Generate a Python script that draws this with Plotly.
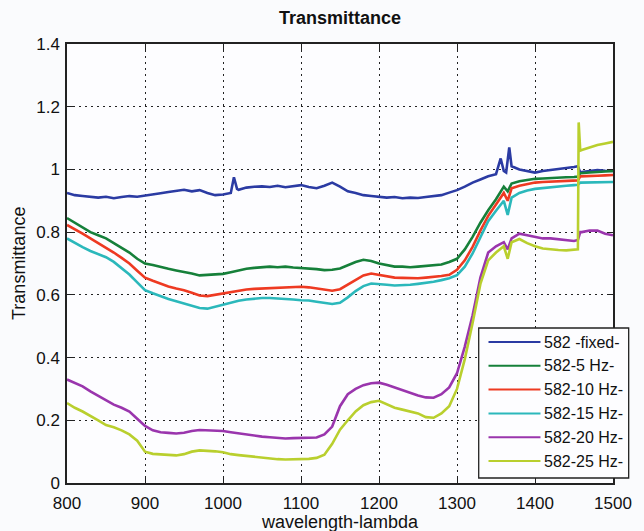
import plotly.graph_objects as go

# Sampling grid of the spectra (nm)
wavelength = list(range(800, 1501, 10))

t_fixed = [
    .925, .918, .915, .912, .910, .913, .908, .912, .915, .913,
    .916, .920, .924, .928, .932, .935, .930, .934, .925, .918,
    .920, .925, .935, .942, .945, .946, .944, .948, .943, .946,
    .950, .944, .940, .948, .958, .945, .930, .925, .918, .915,
    .913, .910, .912, .908, .910, .909, .912, .914, .918, .926,
    .934, .945, .958, .968, .978, .985, .995, 1.010, 1.000, .995,
    .990, .995, .998, 1.000, 1.005, 1.008, .992, .995, .998, .996,
    .995,
]
t_5hz = [
    .845, .830, .815, .800, .790, .780, .765, .750, .735, .715,
    .700, .695, .688, .683, .678, .674, .668, .662, .664, .665,
    .667, .672, .678, .683, .686, .689, .690, .688, .690, .687,
    .686, .684, .682, .679, .680, .684, .695, .705, .712, .708,
    .700, .694, .690, .690, .688, .690, .692, .694, .697, .705,
    .715, .745, .785, .830, .870, .905, .945, .955, .962, .966,
    .970, .971, .973, .974, .975, .976, .988, .990, .992, .993,
    .995,
]
t_10hz = [
    .823, .810, .795, .780, .765, .752, .735, .718, .700, .677,
    .655, .645, .635, .627, .620, .615, .607, .598, .596, .600,
    .605, .610, .614, .617, .619, .620, .622, .623, .625, .626,
    .626, .624, .620, .617, .613, .618, .632, .648, .662, .668,
    .664, .658, .655, .654, .653, .653, .655, .657, .660, .664,
    .680, .710, .753, .805, .852, .888, .925, .940, .948, .954,
    .958, .960, .961, .962, .963, .964, .978, .979, .980, .981,
    .982,
]
t_15hz = [
    .780, .765, .752, .740, .730, .720, .705, .685, .665, .640,
    .615, .605, .595, .587, .580, .573, .566, .558, .556, .562,
    .570, .576, .581, .585, .588, .590, .590, .589, .587, .585,
    .583, .582, .578, .574, .571, .575, .592, .612, .628, .636,
    .635, .632, .630, .630, .632, .635, .638, .642, .647, .653,
    .663, .690, .732, .785, .835, .868, .900, .910, .925, .933,
    .938, .941, .944, .946, .948, .950, .958, .958, .959, .960,
    .960,
]
t_20hz = [
    .330, .318, .308, .292, .278, .262, .250, .240, .228, .205,
    .182, .168, .162, .160, .158, .160, .166, .169, .168, .167,
    .166, .162, .158, .154, .150, .148, .146, .144, .142, .143,
    .143, .144, .145, .155, .180, .245, .283, .300, .312, .318,
    .320, .313, .304, .295, .286, .279, .273, .272, .283, .305,
    .350, .435, .535, .655, .735, .755, .768, .780, .795, .790,
    .785, .780, .780, .777, .775, .772, .800, .805, .805, .795,
    .790,
]
t_25hz = [
    .255, .240, .228, .215, .200, .185, .178, .168, .155, .135,
    .100, .093, .091, .089, .088, .092, .100, .104, .103, .101,
    .098, .092, .089, .086, .083, .080, .078, .076, .075, .075,
    .076, .077, .080, .090, .125, .170, .200, .228, .248, .258,
    .262, .250, .240, .234, .228, .222, .210, .208, .222, .245,
    .300, .395, .510, .635, .710, .735, .755, .768, .778, .765,
    .755, .748, .745, .743, .742, .743, 1.062, 1.070, 1.078, 1.083,
    1.088,
]

# Narrow features between grid points: spikes, dips and the step near 1457 nm
extra_fixed = {1014: .975, 1018: .938, 1356: 1.035, 1363: .990, 1367: 1.070, 1455: 1.010, 1458: .990}
extra_5hz = {1365: .930, 1455: .977, 1458: .988}
extra_10hz = {1365: .900, 1455: .965, 1458: .978}
extra_15hz = {1365: .855, 1368: .890, 1455: .951, 1458: .958}
extra_20hz = {1365: .745, 1455: .775, 1458: .800}
extra_25hz = {1365: .715, 1455: .745, 1456: 1.150, 1458: 1.060}

names = ["582 -fixed-", "582-5 Hz-", "582-10 Hz-", "582-15 Hz-", "582-20 Hz-", "582-25 Hz-"]
colors = ["#2b3ba3", "#16803a", "#ee3a22", "#2bb8bb", "#9a35ad", "#b9cf2e"]
series = [t_fixed, t_5hz, t_10hz, t_15hz, t_20hz, t_25hz]
extras = [extra_fixed, extra_5hz, extra_10hz, extra_15hz, extra_20hz, extra_25hz]

x_ticks = [800, 900, 1000, 1100, 1200, 1300, 1400, 1500]
y_ticks = [0, 0.2, 0.4, 0.6, 0.8, 1.0, 1.2, 1.4]
y_labels = ["0", "0.2", "0.4", "0.6", "0.8", "1", "1.2", "1.4"]

FONT = "Liberation Sans, Arial, sans-serif"

fig = go.Figure()
for name, color, vals, extra in zip(names, colors, series, extras):
    pts = dict(zip(wavelength, vals))
    pts.update(extra)
    xs = sorted(pts)
    fig.add_trace(go.Scatter(
        x=xs, y=[pts[k] for k in xs], mode="lines", name=name,
        line=dict(color=color, width=2.6), showlegend=False,
    ))

# Plot-area pixel geometry
W, H = 644, 531
L, R, T, B = 67, 20, 44, 48
pw, ph = W - L - R, H - T - B


def px(xp):
    return (xp - L) / pw


def py(yp):
    return (H - B - yp) / ph


axis_common = dict(
    showline=True, linecolor="#222", linewidth=1.5, mirror="allticks",
    ticks="inside", ticklen=6, tickcolor="#222", tickwidth=1.2,
    showgrid=True, gridcolor="#222", gridwidth=1, griddash="2px,4px",
    zeroline=False, tickfont=dict(family=FONT, size=17, color="#111"),
)

fig.update_layout(
    width=W, height=H,
    margin=dict(l=L, r=R, t=T, b=B),
    paper_bgcolor="#fafbfd", plot_bgcolor="#fdfdff",
    title=dict(text="<b>Transmittance</b>", x=0.5, xref="paper", xanchor="center",
               y=1 - 18 / H, yanchor="middle", yref="container",
               font=dict(family=FONT, size=18, color="#111")),
    xaxis=dict(range=[800, 1500], tickvals=x_ticks, ticktext=[str(v) for v in x_ticks],
               ticklabelstandoff=4, **axis_common),
    yaxis=dict(range=[0, 1.4], tickvals=y_ticks, ticktext=y_labels,
               ticklabelstandoff=2, **axis_common),
    showlegend=False,
)

# Axis titles
fig.add_annotation(text="wavelength-lambda", xref="paper", yref="paper",
                   x=0.5, y=py(522), xanchor="center", yanchor="middle",
                   showarrow=False, font=dict(family=FONT, size=18, color="#111"))
fig.add_annotation(text="Transmittance", xref="paper", yref="paper",
                   x=px(18), y=py(263), xanchor="center", yanchor="middle", textangle=-90,
                   showarrow=False, font=dict(family=FONT, size=18, color="#111"))

# Legend box in the lower-right corner
lx0, lx1, ly0, ly1 = 487, 640, 328, 478
fig.add_shape(type="rect", xref="paper", yref="paper",
              x0=px(lx0), x1=px(lx1), y0=py(ly1), y1=py(ly0),
              line=dict(color="#222", width=1.3), fillcolor="#fdfdff", layer="above")
for i, (name, color) in enumerate(zip(names, colors)):
    yy = 342 + i * 23.8
    fig.add_shape(type="line", xref="paper", yref="paper",
                  x0=px(497), x1=px(550), y0=py(yy), y1=py(yy),
                  line=dict(color=color, width=2), layer="above")
    fig.add_annotation(text=name, xref="paper", yref="paper",
                       x=px(552), y=py(yy), xanchor="left", yanchor="middle",
                       showarrow=False, font=dict(family=FONT, size=16, color="#111"))

fig.write_html("out.html")
